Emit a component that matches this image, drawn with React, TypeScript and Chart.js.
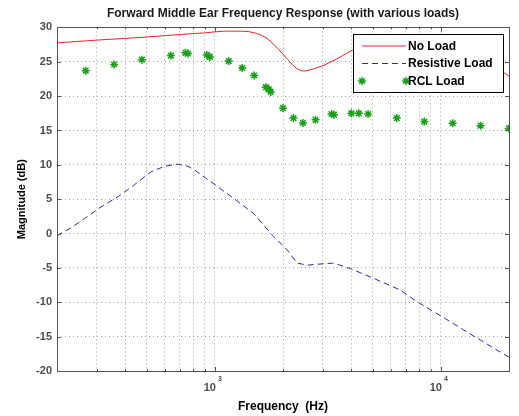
import React, { useEffect, useRef } from 'react';
import { Chart, registerables } from 'chart.js';

Chart.register(...registerables);

const chartTitle = 'Forward Middle Ear Frequency Response (with various loads)';
const xTitle = 'Frequency  (Hz)';
const yTitle = 'Magnitude (dB)';
const seriesNames = ['No Load', 'Resistive Load', 'RCL Load'];

const noLoadFreq = [200, 300, 400, 500, 600, 700, 800, 900, 1000, 1100, 1200, 1300, 1400, 1500, 1600, 1700, 1800, 1900, 2000, 2100, 2200, 2300, 2400, 2500, 2700, 3000, 3500, 4000, 4500, 5000, 6000, 7000, 8000, 10000, 12000, 14000, 16000, 18000, 19000, 20000];
const noLoadDb = [27.75, 28.15, 28.4, 28.6, 28.8, 28.95, 29.1, 29.2, 29.35, 29.45, 29.45, 29.45, 29.4, 29.2, 28.9, 28.4, 27.7, 26.9, 26.1, 25.3, 24.6, 24.0, 23.7, 23.65, 23.9, 24.4, 25.5, 26.6, 27.1, 27.4, 27.6, 27.4, 27.0, 26.1, 25.3, 24.8, 24.3, 23.8, 23.4, 22.9];

const resistiveFreq = [200, 230, 265, 314, 374, 440, 522, 600, 680, 760, 808, 1000, 1213, 1486, 1766, 2090, 2310, 2570, 3000, 3350, 3980, 5020, 6590, 7830, 10000, 13000, 20000];
const resistiveDb = [-0.3, 0.8, 2.2, 3.9, 5.4, 7.1, 9.0, 9.8, 10.1, 9.8, 9.3, 7.1, 5.1, 2.9, 0.0, -2.4, -4.3, -4.6, -4.4, -4.3, -5.1, -6.5, -8.2, -9.9, -12.0, -14.3, -18.0];

const rclFreq = [268, 358, 475, 638, 740, 760, 920, 950, 1150, 1320, 1490, 1680, 1730, 1765, 2000, 2225, 2450, 2785, 3280, 3360, 4015, 4330, 4760, 6380, 8440, 11270, 14960, 19950];
const rclDb = [23.7, 24.6, 25.3, 25.9, 26.3, 26.2, 26.0, 25.7, 25.1, 24.1, 23.0, 21.3, 21.0, 20.6, 18.25, 16.8, 16.1, 16.55, 17.4, 17.3, 17.5, 17.5, 17.4, 16.8, 16.3, 16.05, 15.7, 15.3];

const xGridTicks = [200, 300, 400, 500, 600, 700, 800, 900, 1000, 2000, 3000, 4000, 5000, 6000, 7000, 8000, 9000, 10000, 20000];
const xLabelTicks = [1000, 10000];
const xLabelBase = '10';
const xLabelExp = ['3', '4'];
const yMin = -20;
const yMax = 30;
const yStep = 5;

const FONT = '"Liberation Sans", Arial, Helvetica, sans-serif';
const RED = '#e8262a';
const BLUE = '#2a2ab8';
const GREEN = '#17a017';
const GRID = '#a3a3a3';

function drawStar(ctx: CanvasRenderingContext2D, x: number, y: number, r: number) {
  ctx.beginPath();
  ctx.moveTo(x - r, y); ctx.lineTo(x + r, y);
  ctx.moveTo(x, y - r); ctx.lineTo(x, y + r);
  const d = r * 0.7;
  ctx.moveTo(x - d, y - d); ctx.lineTo(x + d, y + d);
  ctx.moveTo(x - d, y + d); ctx.lineTo(x + d, y - d);
  ctx.stroke();
}

const decorPlugin = {
  id: 'decor',
  afterDraw(chart: any) {
    const ctx = chart.ctx as CanvasRenderingContext2D;
    const { left, right, top, bottom } = chart.chartArea;
    const xs = chart.scales.x;
    const ys = chart.scales.y;
    ctx.save();
    ctx.strokeStyle = '#555';
    ctx.lineWidth = 1;
    ctx.strokeRect(Math.round(left) + 0.5, Math.round(top) + 0.5, Math.round(right - left), Math.round(bottom - top));
    ctx.beginPath();
    for (let v = yMin; v <= yMax; v += yStep) {
      const py = Math.round(ys.getPixelForValue(v)) + 0.5;
      ctx.moveTo(left, py); ctx.lineTo(left + 4, py);
      ctx.moveTo(right, py); ctx.lineTo(right - 4, py);
    }
    xGridTicks.forEach((v) => {
      const px = Math.round(xs.getPixelForValue(v)) + 0.5;
      const len = xLabelTicks.includes(v) ? 4 : 2;
      ctx.moveTo(px, bottom); ctx.lineTo(px, bottom - len);
      ctx.moveTo(px, top); ctx.lineTo(px, top + len);
    });
    ctx.stroke();
    ctx.fillStyle = '#4d4d4d';
    xLabelTicks.forEach((v, i) => {
      const px = xs.getPixelForValue(v);
      ctx.font = `bold 11px ${FONT}`;
      ctx.textAlign = 'right';
      ctx.textBaseline = 'middle';
      ctx.fillText(xLabelBase, px + 1, bottom + 17);
      ctx.font = `bold 7px ${FONT}`;
      ctx.textAlign = 'left';
      ctx.fillText(xLabelExp[i], px + 3, bottom + 8);
    });
    const lx = 353, ly = 34, lw = 150, lh = 58;
    ctx.fillStyle = '#fff';
    ctx.fillRect(lx, ly, lw, lh);
    ctx.strokeStyle = '#000';
    ctx.lineWidth = 1;
    ctx.strokeRect(lx + 0.5, ly + 0.5, lw, lh);
    const rows = [46, 63.5, 81];
    const x0 = 362, x1 = 406;
    ctx.strokeStyle = RED;
    ctx.beginPath(); ctx.moveTo(x0, rows[0]); ctx.lineTo(x1, rows[0]); ctx.stroke();
    ctx.strokeStyle = BLUE;
    ctx.setLineDash([6, 4]);
    ctx.beginPath(); ctx.moveTo(x0, rows[1]); ctx.lineTo(x1, rows[1]); ctx.stroke();
    ctx.setLineDash([]);
    ctx.strokeStyle = GREEN;
    ctx.lineWidth = 1.5;
    drawStar(ctx, x0, rows[2], 4);
    drawStar(ctx, x1, rows[2], 4);
    ctx.fillStyle = '#000';
    ctx.font = `bold 12px ${FONT}`;
    ctx.textAlign = 'left';
    ctx.textBaseline = 'middle';
    seriesNames.forEach((n, i) => ctx.fillText(n, 408, rows[i] + 0.5));
    ctx.restore();
  },
};

export default function App() {
  const ref = useRef<HTMLCanvasElement | null>(null);
  useEffect(() => {
    document.body.style.margin = '0';
    document.body.style.background = '#fff';
    const canvas = ref.current;
    if (!canvas) return;
    const chart = new Chart(canvas, {
      type: 'line',
      data: {
        datasets: [
          {
            label: seriesNames[0],
            data: noLoadFreq.map((f, i) => ({ x: f, y: noLoadDb[i] })),
            borderColor: RED,
            borderWidth: 1,
            pointRadius: 0,
            tension: 0,
          },
          {
            label: seriesNames[1],
            data: resistiveFreq.map((f, i) => ({ x: f, y: resistiveDb[i] })),
            borderColor: BLUE,
            borderWidth: 1,
            borderDash: [6, 4],
            pointRadius: 0,
            tension: 0,
          },
          {
            label: seriesNames[2],
            data: rclFreq.map((f, i) => ({ x: f, y: rclDb[i] })),
            borderColor: GREEN,
            backgroundColor: GREEN,
            showLine: false,
            pointStyle: 'star',
            pointRadius: 4,
            pointBorderWidth: 1.5,
            pointBorderColor: GREEN,
          },
        ],
      },
      options: {
        responsive: false,
        animation: false,
        events: [],
        layout: { padding: { left: 0, right: 10, top: 0, bottom: 0 } },
        plugins: {
          legend: { display: false },
          tooltip: { enabled: false },
          title: {
            display: true,
            fullSize: false,
            text: chartTitle,
            color: '#1a1a1a',
            font: { family: FONT, size: 12, weight: 'bold' },
            padding: { top: 6, bottom: 7 },
          },
        },
        scales: {
          x: {
            type: 'logarithmic',
            min: 200,
            max: 20000,
            afterBuildTicks: (scale: any) => {
              scale.ticks = xGridTicks.map((v) => ({ value: v }));
            },
            afterFit: (scale: any) => {
              scale.height = 45;
            },
            ticks: { display: false },
            grid: { color: GRID, lineWidth: 1, drawTicks: false },
            border: { display: false, dash: [1, 3] },
            title: {
              display: true,
              text: xTitle,
              color: '#000',
              font: { family: FONT, size: 12, weight: 'bold' },
              padding: { top: 0, bottom: 2 },
            },
          },
          y: {
            type: 'linear',
            min: yMin,
            max: yMax,
            afterFit: (scale: any) => {
              scale.width = 57;
            },
            ticks: {
              stepSize: yStep,
              color: '#4d4d4d',
              padding: 5,
              font: { family: FONT, size: 11, weight: 'bold' },
            },
            grid: { color: GRID, lineWidth: 1, drawTicks: false },
            border: { display: false, dash: [1, 3] },
            title: {
              display: true,
              text: yTitle,
              color: '#000',
              font: { family: FONT, size: 11, weight: 'bold' },
              padding: { top: 15, bottom: 0 },
            },
          },
        },
      },
      plugins: [decorPlugin],
    });
    return () => chart.destroy();
  }, []);
  return (
    <div style={{ width: 519, height: 416 }}>
      <canvas ref={ref} width={519} height={416} style={{ display: 'block' }} />
    </div>
  );
}
